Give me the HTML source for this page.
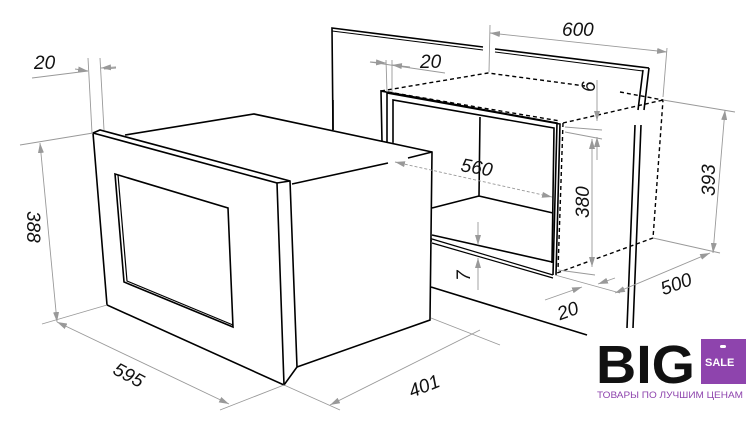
<!DOCTYPE html>
<html><head><meta charset="utf-8"><style>
html,body{margin:0;padding:0;background:#fff;}
svg{display:block;}
text{font-family:"Liberation Sans",sans-serif;font-size:19px;fill:#111;font-style:italic;}
</style></head><body>
<svg width="756" height="432" viewBox="0 0 756 432" xmlns="http://www.w3.org/2000/svg">
<defs>
<marker id="a" viewBox="0 0 10 6" refX="10" refY="3" markerWidth="10" markerHeight="6" orient="auto-start-reverse" markerUnits="userSpaceOnUse"><path d="M0,0L10,3L0,6z" fill="#999"/></marker>
</defs>
<g stroke="#000" stroke-width="1.6" fill="none">
<path d="M333,130 L332,28 L483,47"/>
<path d="M332,31 L483,50" stroke-width="1"/>
<path d="M495,49 L649,68"/><path d="M495,52 L643,71" stroke-width="1"/>
<path d="M649,68 L644,110 M641,125 L633,328"/>
<path d="M643,70 L638,110 M635,125 L627,328"/>
<path d="M382,142 L381,91 L557,123 L553,275"/>
<path d="M387,142 L387,93 L560,124 L556,275"/>
<path d="M393,142 L393,100 L554,128 L552,263"/>
<path d="M480,117 L479,196 L553,213"/>
<path d="M432,208 L479,196"/>
<path d="M432,235 L552,262"/>
<path d="M432,239 L553,275 M432,243 L553,278" stroke-width="1.2"/>
<path d="M431,287 L587,335"/>
</g>
<g stroke="#000" stroke-width="1.4" fill="none" stroke-dasharray="4,3">
<path d="M382,142 L382,227 L432,239"/>
<path d="M387,142 L387,230 L432,241"/>
<path d="M393,142 L393,218 L432,208"/>
<path d="M381,91 L488,73 L585,86 M620,92 L663,100 L653,238 L557,273"/>
<path d="M563,123 L663,100"/>
<path d="M563,123 L558,270"/>
<path d="M388,92 L560,121"/>
</g>
<g stroke="#000" stroke-width="1.6" fill="#fff">
<path d="M290,181 L432,152 L430,320 L297,367 Z" stroke="none"/>
<path d="M125,135 L254,114 L432,152 L430,320 L297,367"/>
<path d="M292,184 L388,163 M408,158 L432,152" fill="none"/>
<path d="M93,133 L100,130 L290,181 L297,367 L284,385 L107,305 Z"/>
<path d="M93,133 L277,183 L284,385" fill="none"/>
<path d="M277,183 L290,181" fill="none"/>
<path d="M115,174 L228,208 L233,327 L124,282 Z"/>
<path d="M118,175 L127,281 L233,325" fill="none" stroke-width="1.2"/>
<path d="M333,100 L333,130" fill="none"/>
</g>
<g stroke="#999" stroke-width="0.9" fill="none">
<path d="M88,58 L92,133 M100,58 L104,130"/>
<path d="M32,78 L88,71" /><path d="M104,69 L116,68"/>
<path d="M75,69 L88,71" marker-end="url(#a)"/>
<path d="M116,67 L101,68" marker-end="url(#a)"/>
<path d="M20,145 L93,133 M42,324 L107,305"/>
<path d="M40,143 L57,322" marker-start="url(#a)" marker-end="url(#a)"/>
<path d="M57,322 L229,404" marker-start="url(#a)" marker-end="url(#a)"/>
<path d="M220,410 L284,385 M284,385 L340,410"/>
<path d="M330,405 L480,330" marker-start="url(#a)"/>
<path d="M431,318 L500,345"/>
<path d="M490,25 L489,72 M667,48 L663,97"/>
<path d="M490,33 L667,52" marker-start="url(#a)" marker-end="url(#a)"/>
<path d="M370,62 L445,73" /><path d="M370,62 L386,63" marker-end="url(#a)"/><path d="M410,67 L392,65" marker-end="url(#a)"/>
<path d="M386,60 L387,92 M392,60 L392,92"/>
<path d="M597,80 L597,121" marker-end="url(#a)"/>
<path d="M597,160 L597,137" marker-end="url(#a)"/>
<path d="M565,127 L602,130 M565,132 L602,139"/>
<path d="M592,267 L592,139" marker-start="url(#a)" marker-end="url(#a)"/>
<path d="M558,270 L595,275"/>
<path d="M395,162 L552,197" stroke-dasharray="3,2" marker-start="url(#a)" marker-end="url(#a)"/>
<path d="M478,222 L478,245" marker-end="url(#a)"/>
<path d="M478,290 L478,258" marker-end="url(#a)"/>
<path d="M663,100 L735,112 M653,238 L720,253"/>
<path d="M725,110 L713,253" marker-start="url(#a)" marker-end="url(#a)"/>
<path d="M615,293 L710,253" marker-start="url(#a)" marker-end="url(#a)"/>
<path d="M555,275 L620,293"/>
<path d="M545,300 L582,287" marker-end="url(#a)"/>
<path d="M615,278 L598,284" marker-end="url(#a)"/>
</g>
<text x="34" y="69">20</text>
<text x="16" y="234" transform="rotate(90 33 228)">388</text>
<text x="113" y="382" transform="rotate(28 130 375)">595</text>
<text x="408" y="392" transform="rotate(-22 425 385)">401</text>
<text x="562" y="36">600</text>
<text x="420" y="68">20</text>
<text x="583" y="94" transform="rotate(-90 588 87)">6</text>
<text x="461" y="174" transform="rotate(10 478 167)">560</text>
<text x="566" y="209" transform="rotate(-90 582 202)">380</text>
<text x="692" y="187" transform="rotate(-90 708 180)">393</text>
<text x="457" y="282" transform="rotate(-90 463 275)">7</text>
<text x="660" y="290" transform="rotate(-20 677 283)">500</text>
<text x="557" y="317" transform="rotate(-20 568 310)">20</text>
<g>
<text x="596" y="383" textLength="99" lengthAdjust="spacingAndGlyphs" style="font-style:normal;font-weight:bold;font-size:54px;fill:#111;font-family:'Liberation Sans',sans-serif">BIG</text>
<rect x="701" y="339" width="45" height="45" fill="#8e44ad"/>
<rect x="720" y="345" width="6" height="3" rx="1.5" fill="#fff"/>
<text x="705" y="366" style="font-style:normal;font-weight:bold;font-size:11px;fill:#fff">SALE</text>
<text x="597" y="398" textLength="146" lengthAdjust="spacingAndGlyphs" style="font-style:normal;font-size:9px;fill:#8e44ad;font-family:'Liberation Sans',sans-serif">ТОВАРЫ ПО ЛУЧШИМ ЦЕНАМ</text>
</g>
</svg>
</body></html>
